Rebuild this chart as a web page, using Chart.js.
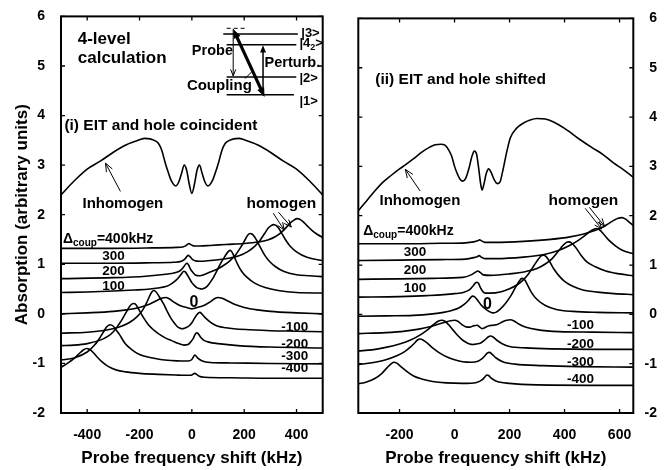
<!DOCTYPE html>
<html><head><meta charset="utf-8">
<script src="https://cdn.jsdelivr.net/npm/chart.js@4.4.1/dist/chart.umd.min.js"></script>
<style>
html,body{margin:0;padding:0;background:#fff;}
#wrap{position:relative;width:664px;height:470px;background:#fff;}
#cA{position:absolute;left:0;top:0;}
#cB{position:absolute;left:330px;top:0;}
</style></head><body>
<div id="wrap"><canvas id="cA" width="330" height="470"></canvas><canvas id="cB" width="334" height="470"></canvas></div>
<script>
// ---------- tick labels ----------
const yTicks = [-2,-1,0,1,2,3,4,5,6];
const xTicksL = [-400,-200,0,200,400];
const xTicksR = [-200,0,200,400,600];

// ---------- LEFT panel (i): EIT and hole coincident ----------
const L_inh_k = [-500,-450,-400,-350,-300,-250,-200,-180,-160,-140,-128,-115,-103,-90,-78,-62,-50,-40,-29,-20,-10,0,10,20,29,40,50,62,78,90,103,115,128,140,160,180,200,250,300,350,400,450,500];
const L_inh_v = [2.40,2.68,2.92,3.08,3.26,3.41,3.51,3.54,3.53,3.49,3.44,3.30,3.07,2.85,2.68,2.58,2.66,2.82,3.00,2.90,2.62,2.43,2.62,2.90,3.00,2.82,2.66,2.58,2.68,2.85,3.07,3.30,3.44,3.49,3.53,3.54,3.51,3.41,3.26,3.08,2.92,2.68,2.40];

const L_p400_k = [-500,-300,-150,-60,-35,-24,-17,-11,-5,2,12,30,70,130,200,254,290,320,343,360,375,390,402,412,425,440,460,480,500];
const L_p400_v = [1.32,1.32,1.33,1.34,1.35,1.37,1.40,1.42,1.40,1.38,1.37,1.37,1.38,1.40,1.42,1.45,1.49,1.56,1.65,1.74,1.83,1.89,1.92,1.91,1.86,1.78,1.68,1.60,1.54];
const L_p300_k = [-500,-300,-150,-70,-40,-28,-20,-14,-8,0,12,30,60,100,140,180,215,240,260,278,292,303,312,320,330,342,356,375,400,440,500];
const L_p300_v = [1.02,1.02,1.03,1.04,1.06,1.10,1.15,1.18,1.16,1.11,1.07,1.06,1.07,1.09,1.12,1.17,1.26,1.36,1.48,1.62,1.73,1.78,1.80,1.79,1.74,1.64,1.51,1.37,1.25,1.14,1.07];
const L_p200_k = [-500,-300,-176,-100,-65,-45,-32,-24,-18,-12,-5,5,15,30,50,77,100,128,145,166,190,204,214,222,230,240,252,265,280,300,320,350,400,450,500];
const L_p200_v = [0.71,0.73,0.76,0.80,0.83,0.87,0.94,1.00,1.02,0.98,0.90,0.83,0.78,0.77,0.80,0.86,0.91,1.00,1.07,1.18,1.37,1.50,1.59,1.62,1.61,1.55,1.44,1.31,1.17,1.04,0.95,0.86,0.79,0.77,0.75];
const L_p100_k = [-500,-400,-300,-220,-160,-130,-100,-80,-60,-48,-38,-31,-26,-19,-10,0,10,19,28,38,45,57,68,82,95,108,125,138,146,153,162,175,190,210,240,280,330,400,500];
const L_p100_v = [0.43,0.44,0.46,0.48,0.50,0.52,0.55,0.60,0.68,0.75,0.82,0.86,0.85,0.80,0.72,0.63,0.57,0.53,0.51,0.50,0.51,0.55,0.62,0.73,0.86,1.00,1.15,1.25,1.28,1.25,1.15,1.00,0.86,0.74,0.62,0.53,0.47,0.43,0.42];
const L_0_k = [-500,-400,-300,-250,-200,-160,-130,-112,-100,-88,-70,-50,-35,-20,-8,0,8,20,35,50,70,88,100,112,130,160,200,250,300,400,500];
const L_0_v = [0.00,0.02,0.05,0.08,0.13,0.20,0.28,0.32,0.33,0.31,0.24,0.18,0.15,0.13,0.11,0.10,0.11,0.13,0.15,0.18,0.24,0.31,0.33,0.32,0.28,0.20,0.13,0.08,0.05,0.02,0.00];
const L_m100_k = [-500,-400,-330,-280,-240,-210,-190,-175,-162,-153,-146,-138,-125,-108,-95,-82,-68,-57,-45,-38,-28,-19,-10,0,10,19,26,31,38,48,60,80,100,130,160,220,300,400,500];
const L_m100_v = [-0.39,-0.37,-0.33,-0.27,-0.18,-0.06,0.06,0.20,0.35,0.44,0.47,0.45,0.35,0.20,0.06,-0.07,-0.18,-0.25,-0.29,-0.30,-0.29,-0.27,-0.24,-0.18,-0.09,-0.02,0.02,0.03,0.00,-0.06,-0.12,-0.20,-0.25,-0.28,-0.30,-0.32,-0.34,-0.35,-0.36];
const L_m200_k = [-500,-450,-400,-350,-320,-300,-280,-265,-250,-238,-228,-222,-214,-204,-190,-166,-145,-128,-100,-77,-50,-30,-15,-5,5,12,18,24,32,45,65,100,176,300,500];
const L_m200_v = [-0.64,-0.63,-0.60,-0.53,-0.45,-0.36,-0.22,-0.10,0.04,0.15,0.20,0.21,0.19,0.10,-0.03,-0.22,-0.33,-0.40,-0.49,-0.54,-0.60,-0.63,-0.62,-0.57,-0.50,-0.42,-0.38,-0.40,-0.46,-0.53,-0.57,-0.60,-0.64,-0.67,-0.69];
const L_m300_k = [-500,-450,-400,-370,-350,-335,-325,-312,-300,-290,-275,-255,-230,-200,-160,-120,-80,-40,-15,0,6,11,16,24,40,70,150,300,500];
const L_m300_v = [-0.93,-0.89,-0.77,-0.62,-0.47,-0.34,-0.26,-0.22,-0.25,-0.32,-0.43,-0.60,-0.72,-0.82,-0.88,-0.92,-0.94,-0.95,-0.95,-0.92,-0.87,-0.83,-0.85,-0.90,-0.95,-0.98,-0.99,-1.00,-1.01];
const L_m400_k = [-500,-470,-450,-430,-415,-402,-390,-375,-360,-343,-320,-290,-254,-200,-128,-60,-20,-5,4,11,18,28,50,150,300,500];
const L_m400_v = [-1.08,-0.98,-0.90,-0.80,-0.73,-0.70,-0.72,-0.79,-0.88,-0.97,-1.06,-1.13,-1.17,-1.20,-1.22,-1.235,-1.24,-1.24,-1.22,-1.20,-1.22,-1.26,-1.28,-1.29,-1.30,-1.30];

// ---------- RIGHT panel (ii): EIT and hole shifted ----------
const R_inh_k = [-350,-320,-290,-264,-230,-200,-179,-150,-119,-90,-70,-50,-35,-20,-10,0,10,20,30,40,52,63,72,80,88,95,100,106,115,124,133,145,155,165,175,190,203,225,251,275,300,330,360,400,457,500,540,578,610,650];
const R_inh_v = [2.10,2.30,2.50,2.66,2.82,2.95,3.03,3.15,3.29,3.39,3.44,3.45,3.43,3.32,3.20,3.00,2.85,2.74,2.70,2.75,2.95,3.20,3.31,3.25,2.95,2.64,2.52,2.62,2.85,2.95,2.88,2.72,2.65,2.68,2.90,3.30,3.58,3.77,3.88,3.94,3.97,3.96,3.90,3.77,3.54,3.38,3.24,3.07,2.95,2.78];

const R_p400_k = [-350,-200,-50,40,70,84,91,98,110,150,250,350,420,470,510,540,560,580,595,609,622,635,650];
const R_p400_v = [1.43,1.43,1.44,1.45,1.47,1.49,1.51,1.49,1.46,1.46,1.48,1.52,1.57,1.63,1.70,1.77,1.84,1.91,1.95,1.96,1.93,1.87,1.80];
const R_p300_k = [-350,-200,-50,40,70,82,90,97,110,150,250,330,380,420,450,470,490,505,515,528,540,560,585,610,650];
const R_p300_v = [1.09,1.10,1.11,1.12,1.15,1.17,1.19,1.16,1.13,1.13,1.16,1.22,1.30,1.40,1.50,1.58,1.67,1.72,1.74,1.71,1.64,1.51,1.39,1.30,1.23];
const R_p200_k = [-350,-200,-80,30,60,75,85,93,105,130,200,260,300,330,355,380,395,407,415,425,440,460,480,510,550,600,650];
const R_p200_v = [0.71,0.72,0.73,0.75,0.80,0.85,0.88,0.85,0.80,0.79,0.82,0.87,0.93,1.02,1.13,1.30,1.40,1.46,1.47,1.45,1.36,1.20,1.07,0.97,0.88,0.82,0.78];
const R_p100_k = [-350,-200,-100,0,35,55,68,76,82,88,95,103,112,130,170,200,228,250,270,290,305,316,324,333,345,360,380,400,430,470,520,580,650];
const R_p100_v = [0.35,0.36,0.38,0.42,0.45,0.50,0.58,0.64,0.65,0.62,0.53,0.46,0.43,0.43,0.46,0.52,0.60,0.70,0.83,1.00,1.12,1.19,1.20,1.17,1.08,0.93,0.78,0.67,0.57,0.49,0.45,0.42,0.40];
const R_0_k = [-350,-250,-150,-80,-40,-10,15,35,50,60,66,72,82,95,110,125,138,150,165,185,205,222,235,245,255,265,280,300,330,370,430,520,650];
const R_0_v = [-0.04,-0.03,-0.02,0.01,0.04,0.08,0.13,0.20,0.28,0.35,0.37,0.36,0.30,0.20,0.12,0.06,0.03,0.04,0.10,0.22,0.38,0.55,0.67,0.73,0.70,0.60,0.44,0.30,0.18,0.10,0.06,0.04,0.03];
const R_m100_k = [-350,-250,-180,-130,-90,-60,-35,-15,0,12,25,40,55,70,82,92,100,110,125,142,158,175,190,203,215,235,260,300,380,500,650];
const R_m100_v = [-0.39,-0.37,-0.34,-0.30,-0.25,-0.20,-0.16,-0.13,-0.12,-0.14,-0.20,-0.25,-0.26,-0.23,-0.22,-0.26,-0.29,-0.27,-0.23,-0.22,-0.20,-0.15,-0.12,-0.11,-0.13,-0.20,-0.26,-0.31,-0.35,-0.36,-0.37];
const R_m200_k = [-350,-300,-250,-200,-160,-120,-95,-75,-60,-46,-35,-20,-5,10,25,40,55,65,80,95,110,122,131,140,155,175,200,260,350,500,650];
const R_m200_v = [-0.74,-0.72,-0.67,-0.60,-0.52,-0.40,-0.30,-0.20,-0.14,-0.12,-0.14,-0.22,-0.32,-0.42,-0.50,-0.56,-0.60,-0.61,-0.60,-0.58,-0.52,-0.46,-0.44,-0.46,-0.53,-0.60,-0.65,-0.68,-0.70,-0.71,-0.71];
const R_m300_k = [-350,-300,-250,-210,-180,-160,-145,-135,-125,-115,-100,-80,-55,-25,0,30,60,85,100,112,120,127,135,150,175,220,320,450,650];
const R_m300_v = [-1.02,-0.98,-0.92,-0.84,-0.75,-0.66,-0.58,-0.52,-0.50,-0.52,-0.58,-0.68,-0.78,-0.87,-0.92,-0.96,-0.97,-0.95,-0.90,-0.83,-0.78,-0.77,-0.80,-0.88,-0.96,-1.01,-1.04,-1.06,-1.07];
const R_m400_k = [-350,-320,-290,-265,-245,-230,-220,-210,-195,-175,-149,-120,-80,-30,30,80,100,110,117,124,132,150,200,300,650];
const R_m400_v = [-1.41,-1.37,-1.30,-1.20,-1.08,-1.00,-0.97,-0.99,-1.06,-1.15,-1.25,-1.31,-1.36,-1.39,-1.40,-1.38,-1.33,-1.27,-1.23,-1.24,-1.29,-1.35,-1.40,-1.43,-1.44];

const FONT = '"Liberation Sans", Arial, Helvetica, sans-serif';
Chart.defaults.font.family = FONT;
Chart.defaults.color = '#000';

function pts(k, v){ const n=Math.min(k.length,v.length); const o=[]; for(let i=0;i<n;i++) o.push({x:k[i],y:v[i]}); return o; }

function frameTicks(){
  return {
    id:'frameTicks',
    afterDatasetsDraw(chart){
      const {ctx, chartArea:a, scales:{x,y}} = chart;
      ctx.save();
      ctx.strokeStyle='#000';
      ctx.lineWidth=1.3;
      const L=4;
      ctx.beginPath();
      x.ticks.forEach(t=>{const p=x.getPixelForValue(t.value); ctx.moveTo(p,a.bottom); ctx.lineTo(p,a.bottom-L); ctx.moveTo(p,a.top); ctx.lineTo(p,a.top+L);});
      y.ticks.forEach(t=>{const p=y.getPixelForValue(t.value); ctx.moveTo(a.left,p); ctx.lineTo(a.left+L,p); ctx.moveTo(a.right,p); ctx.lineTo(a.right-L,p);});
      ctx.stroke();
      ctx.lineWidth=2;
      ctx.strokeRect(a.left,a.top,a.right-a.left,a.bottom-a.top);
      ctx.restore();
    }
  };
}

function annotPlugin(items){
  return {
    id:'annot',
    afterDraw(chart){
      const {ctx, scales:{x,y}} = chart;
      const X=k=>x.getPixelForValue(k), Y=v=>y.getPixelForValue(v);
      ctx.save();
      ctx.fillStyle='#000'; ctx.strokeStyle='#000';
      ctx.textBaseline='alphabetic'; ctx.textAlign='left';
      const head=(px,py,ang,hs,filled)=>{
        const a=0.38;
        const x1=px-hs*Math.cos(ang-a), y1=py-hs*Math.sin(ang-a);
        const x2=px-hs*Math.cos(ang+a), y2=py-hs*Math.sin(ang+a);
        ctx.beginPath();
        if(filled){ ctx.moveTo(px,py); ctx.lineTo(x1,y1); ctx.lineTo(x2,y2); ctx.closePath(); ctx.fill(); }
        else { ctx.moveTo(x1,y1); ctx.lineTo(px,py); ctx.lineTo(x2,y2); ctx.stroke(); }
      };
      items.forEach(it=>{
        if(it.t==='text'){
          ctx.font=`bold ${it.size}px ${FONT}`;
          ctx.fillText(it.s, X(it.k), Y(it.v));
        } else if(it.t==='rich'){
          let px=X(it.k); const py=Y(it.v);
          it.parts.forEach(p=>{ ctx.font=`bold ${p.size}px ${FONT}`; ctx.fillText(p.s, px, py+(p.dy||0)); px+=ctx.measureText(p.s).width + (p.gap||0); });
        } else if(it.t==='line'){
          ctx.lineWidth=it.w; ctx.setLineDash(it.dash||[]);
          ctx.beginPath(); ctx.moveTo(X(it.k1),Y(it.v1)); ctx.lineTo(X(it.k2),Y(it.v2)); ctx.stroke();
          ctx.setLineDash([]);
        } else if(it.t==='arrow'){
          const x1=X(it.k1), y1=Y(it.v1), x2=X(it.k2), y2=Y(it.v2);
          const ang=Math.atan2(y2-y1,x2-x1);
          ctx.lineWidth=it.w;
          const sh = it.filled ? it.hs*0.7 : 0;
          const sx = it.both ? x1+sh*Math.cos(ang) : x1, sy = it.both ? y1+sh*Math.sin(ang) : y1;
          ctx.beginPath(); ctx.moveTo(sx,sy); ctx.lineTo(x2-sh*Math.cos(ang), y2-sh*Math.sin(ang)); ctx.stroke();
          ctx.lineWidth=1;
          head(x2,y2,ang,it.hs,it.filled);
          if(it.both) head(x1,y1,ang+Math.PI,it.hs,it.filled);
        }
      });
      ctx.restore();
    }
  };
}

function makeChart(id, curves, xr, xticks, yPos, pad, yW, annots, yTitle){
  return new Chart(document.getElementById(id), {
    type:'line',
    data:{ datasets: curves.map(c=>({ data: pts(c[0],c[1]), borderColor:'#000', borderWidth:1.6, pointRadius:0, cubicInterpolationMode:'monotone', fill:false })) },
    options:{
      responsive:false, animation:false, events:[],
      layout:{padding:pad},
      plugins:{legend:{display:false}, tooltip:{enabled:false}},
      scales:{
        x:{ type:'linear', min:xr[0], max:xr[1],
            afterBuildTicks:s=>{ s.ticks = xticks.map(v=>({value:v})); },
            afterFit:s=>{ s.height = 57; },
            grid:{display:false}, border:{display:false},
            ticks:{ color:'#000', font:{family:FONT,size:14,weight:'bold'}, padding:6, maxRotation:0, autoSkip:false, callback:v=>String(v) },
            title:{ display:true, text:'Probe frequency shift (kHz)', color:'#000', font:{family:FONT,size:17,weight:'bold'}, padding:{top:0,bottom:1} } },
        y:{ type:'linear', position:yPos, min:-2, max:6,
            afterBuildTicks:s=>{ s.ticks = yTicks.map(v=>({value:v})); },
            afterFit:s=>{ s.width = yW; },
            grid:{display:false}, border:{display:false},
            ticks:{ color:'#000', font:{family:FONT,size:14,weight:'bold'}, padding:yPos==='left'?8:10, crossAlign: yPos==='left'?'near':'far', callback:v=>String(v) },
            title:{ display:!!yTitle, text:yTitle||'', color:'#000', font:{family:FONT,size:17,weight:'bold'}, padding:{top:12,bottom:0} } }
      }
    },
    plugins:[frameTicks(), annotPlugin(annots)]
  });
}

const annL = [
  {t:'text', s:'4-level', k:-436, v:5.44, size:17},
  {t:'text', s:'calculation', k:-436, v:5.06, size:17},
  {t:'text', s:'(i) EIT and hole coincident', k:-487, v:3.70, size:15.5},
  {t:'text', s:'Inhomogen', k:-418, v:2.13, size:15},
  {t:'text', s:'homogen', k:209, v:2.13, size:15.5},
  {t:'arrow', k1:-273, v1:2.47, k2:-330, v2:3.04, w:1, hs:9, filled:false},
  {t:'arrow', k1:311, v1:2.03, k2:353, v2:1.69, w:1, hs:8, filled:false},
  {t:'arrow', k1:331, v1:2.05, k2:380, v2:1.75, w:1, hs:8, filled:false},
  {t:'rich', k:-492.6, v:1.43, parts:[{s:'Δ',size:14},{s:'coup',size:10,dy:3},{s:'=400kHz',size:14}]},
  {t:'text', s:'300', k:-342, v:1.09, size:13.5},
  {t:'text', s:'200', k:-342, v:0.79, size:13.5},
  {t:'text', s:'100', k:-342, v:0.49, size:13.5},
  {t:'text', s:'0', k:-9, v:0.13, size:16},
  {t:'text', s:'-100', k:342, v:-0.34, size:13.5},
  {t:'text', s:'-200', k:342, v:-0.69, size:13.5},
  {t:'text', s:'-300', k:342, v:-0.94, size:13.5},
  {t:'text', s:'-400', k:342, v:-1.17, size:13.5},
  // energy-level inset
  {t:'line', k1:133, v1:5.76, k2:202, v2:5.76, w:1, dash:[4,3]},
  {t:'line', k1:120, v1:5.645, k2:405, v2:5.645, w:1.5},
  {t:'line', k1:133, v1:5.43, k2:399, v2:5.43, w:1.5},
  {t:'line', k1:133, v1:4.78, k2:399, v2:4.78, w:1.5},
  {t:'line', k1:133, v1:4.42, k2:390, v2:4.42, w:1.5},
  {t:'text', s:'|3>', k:418, v:5.58, size:13},
  {t:'rich', k:411, v:5.38, parts:[{s:'|4',size:13},{s:'2',size:9,dy:3},{s:'>',size:13}]},
  {t:'text', s:'|2>', k:411, v:4.68, size:13},
  {t:'text', s:'|1>', k:411, v:4.22, size:13},
  {t:'arrow', k1:158, v1:5.745, k2:158, v2:4.80, w:1, hs:7, filled:false},
  {t:'text', s:'Probe', k:0, v:5.23, size:14.5},
  {t:'text', s:'Coupling', k:-19, v:4.52, size:15},
  {t:'text', s:'Perturb.', k:278, v:4.98, size:14.5},
  {t:'arrow', k1:158, v1:5.745, k2:278, v2:4.376, w:3.2, hs:10, filled:true, both:true},
  {t:'line', k1:203, v1:4.744, k2:228, v2:4.878, w:1},
  {t:'arrow', k1:272, v1:4.41, k2:272, v2:5.42, w:1.5, hs:8, filled:true}
];

const annR = [
  {t:'text', s:'(ii) EIT and hole shifted', k:-288, v:4.66, size:15.5},
  {t:'text', s:'Inhomogen', k:-273, v:2.22, size:15},
  {t:'text', s:'homogen', k:342, v:2.22, size:15.5},
  {t:'arrow', k1:-125, v1:2.50, k2:-179, v2:2.94, w:1, hs:9, filled:false},
  {t:'arrow', k1:475, v1:2.15, k2:535, v2:1.73, w:1, hs:8, filled:false},
  {t:'arrow', k1:490, v1:2.17, k2:545, v2:1.79, w:1, hs:8, filled:false},
  {t:'rich', k:-332, v:1.61, parts:[{s:'Δ',size:14},{s:'coup',size:10,dy:3},{s:'=400kHz',size:14}]},
  {t:'text', s:'300', k:-185, v:1.18, size:13.5},
  {t:'text', s:'200', k:-185, v:0.81, size:13.5},
  {t:'text', s:'100', k:-185, v:0.45, size:13.5},
  {t:'text', s:'0', k:103, v:0.10, size:16},
  {t:'text', s:'-100', k:409, v:-0.30, size:13.5},
  {t:'text', s:'-200', k:409, v:-0.69, size:13.5},
  {t:'text', s:'-300', k:409, v:-1.05, size:13.5},
  {t:'text', s:'-400', k:409, v:-1.40, size:13.5}
];

makeChart('cA',
  [[L_inh_k,L_inh_v],[L_p400_k,L_p400_v],[L_p300_k,L_p300_v],[L_p200_k,L_p200_v],[L_p100_k,L_p100_v],[L_0_k,L_0_v],[L_m100_k,L_m100_v],[L_m200_k,L_m200_v],[L_m300_k,L_m300_v],[L_m400_k,L_m400_v]],
  [-500,500], xTicksL, 'left', {left:0,right:7.3,top:14,bottom:0}, 61, annL, 'Absorption (arbitrary units)');

makeChart('cB',
  [[R_inh_k,R_inh_v],[R_p400_k,R_p400_v],[R_p300_k,R_p300_v],[R_p200_k,R_p200_v],[R_p100_k,R_p100_v],[R_0_k,R_0_v],[R_m100_k,R_m100_v],[R_m200_k,R_m200_v],[R_m300_k,R_m300_v],[R_m400_k,R_m400_v]],
  [-350,650], xTicksR, 'right', {left:28.3,right:7,top:14,bottom:0}, 23.7, annR, null);
</script>
</body></html>
